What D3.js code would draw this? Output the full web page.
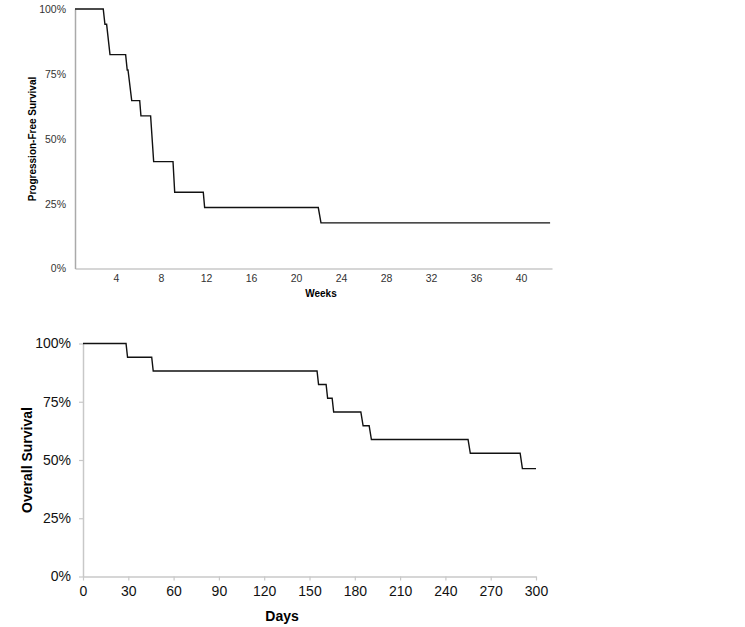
<!DOCTYPE html>
<html><head><meta charset="utf-8">
<script src="https://cdn.jsdelivr.net/npm/d3@7"></script>
<style>body{margin:0;background:#fff}svg{display:block}text{font-family:"Liberation Sans",Arial,sans-serif}</style>
</head><body><svg id="c" width="745" height="627"></svg>
<script>
// Progression-free survival (weeks, %)
const pfsWeeks = [0, 2.87, 3.02, 3.17, 3.47, 4.86, 5.0, 5.07, 5.4, 6.11, 6.22, 7.08, 7.35, 9.07, 9.22, 11.76, 11.88, 21.98, 22.22, 42.58];
const pfsPct   = [100, 100, 94.1, 94.1, 82.4, 82.4, 76.5, 76.5, 64.7, 64.7, 58.8, 58.8, 41.2, 41.2, 29.4, 29.4, 23.5, 23.5, 17.6, 17.6];
const pfsXTicks = [4, 8, 12, 16, 20, 24, 28, 32, 36, 40];
// Overall survival (days, %)
const osDays = [0, 28.5, 29.5, 45.5, 46.5, 155, 156, 161, 162, 165, 166, 184, 185.5, 189.5, 191, 255, 256.5, 289.5, 291, 300];
const osPct  = [100, 100, 94.1, 94.1, 88.2, 88.2, 82.4, 82.4, 76.5, 76.5, 70.6, 70.6, 64.7, 64.7, 58.8, 58.8, 52.9, 52.9, 46.3, 46.3];
const osXTicks = [0, 30, 60, 90, 120, 150, 180, 210, 240, 270, 300];
const yTicks = [0, 25, 50, 75, 100];

const svg = d3.select("#c");
const axisCol = "#c8c8c8";

// ---------- Top chart ----------
(function(){
  const x = d3.scaleLinear().domain([0.36, 42.75]).range([75, 552]).clamp(true);
  const y = d3.scaleLinear().domain([0, 100]).range([268.5, 9]);
  const g = svg.append("g");
  const xa = g.append("g").attr("transform","translate(0,268.5)")
    .call(d3.axisBottom(x).tickValues(pfsXTicks).tickSize(0).tickPadding(6).tickFormat(d3.format("d")));
  xa.select(".domain").attr("stroke", axisCol).attr("stroke-width",1.5);
  xa.selectAll("text").attr("font-size",10.5).attr("fill","#333");
  const ya = g.append("g").attr("transform","translate(75,0)")
    .call(d3.axisLeft(y).tickValues(yTicks).tickSize(0).tickPadding(9).tickFormat(d => d + "%"));
  ya.select(".domain").attr("stroke", "#aaa").attr("stroke-width",1.5);
  ya.selectAll("text").attr("font-size",10.5).attr("fill","#333");
  const line = d3.line().x((d,i)=>x(pfsWeeks[i])).y((d,i)=>y(pfsPct[i]));
  g.append("path").datum(pfsWeeks).attr("d", line).attr("fill","none").attr("stroke","#111").attr("stroke-width",1.4);
  g.append("text").attr("x",321).attr("y",297).attr("text-anchor","middle").attr("font-size",10).attr("font-weight","bold").text("Weeks");
  g.append("text").attr("transform","translate(36,139) rotate(-90)").attr("text-anchor","middle").attr("font-size",10).attr("font-weight","bold").text("Progression-Free Survival");
})();

// ---------- Bottom chart ----------
(function(){
  const x = d3.scaleLinear().domain([0, 300]).range([83, 536]);
  const y = d3.scaleLinear().domain([0, 100]).range([576.5, 343.5]);
  const g = svg.append("g");
  const xa = g.append("g").attr("transform","translate(0,576.5)")
    .call(d3.axisBottom(x).tickValues(osXTicks).tickSizeOuter(0).tickSizeInner(4).tickPadding(6).tickFormat(d3.format("d")));
  xa.select(".domain").attr("stroke", axisCol).attr("stroke-width",1.5);
  xa.selectAll(".tick line").attr("stroke", axisCol).attr("stroke-width",1.2);
  xa.selectAll("text").attr("font-size",14).attr("fill","#111");
  const ya = g.append("g").attr("transform","translate(83,0)")
    .call(d3.axisLeft(y).tickValues(yTicks).tickSizeOuter(0).tickSizeInner(4).tickPadding(8).tickFormat(d => d + "%"));
  ya.select(".domain").attr("stroke", axisCol).attr("stroke-width",1.5);
  ya.selectAll(".tick line").attr("stroke", axisCol).attr("stroke-width",1.2);
  ya.selectAll("text").attr("font-size",14).attr("fill","#111");
  const line = d3.line().x((d,i)=>x(osDays[i])).y((d,i)=>y(osPct[i]));
  g.append("path").datum(osDays).attr("d", line).attr("fill","none").attr("stroke","#111").attr("stroke-width",1.4);
  g.append("text").attr("x",282).attr("y",621).attr("text-anchor","middle").attr("font-size",14).attr("font-weight","bold").text("Days");
  g.append("text").attr("transform","translate(32,460) rotate(-90)").attr("text-anchor","middle").attr("font-size",14).attr("font-weight","bold").text("Overall Survival");
})();
</script></body></html>
